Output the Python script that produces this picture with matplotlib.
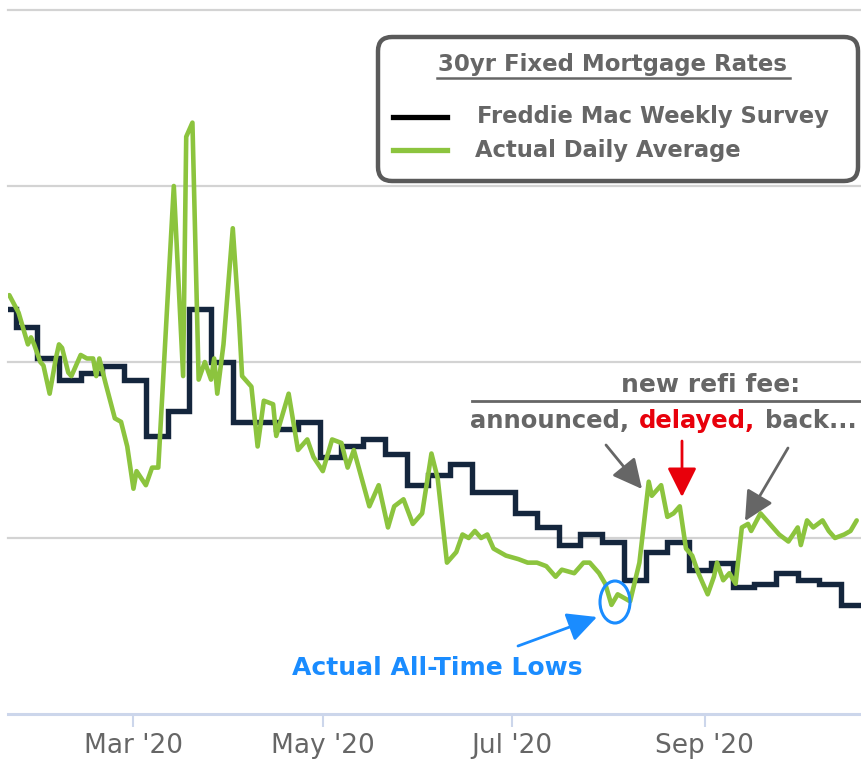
import matplotlib
matplotlib.use('Agg')
import matplotlib.pyplot as plt
import matplotlib.dates as mdates
from matplotlib.patches import FancyBboxPatch, Ellipse
from matplotlib.lines import Line2D
from matplotlib.transforms import Affine2D
import pandas as pd

# ---------------- data ----------------
freddie_dates = ['2020-01-16', '2020-01-23', '2020-01-30', '2020-02-06', '2020-02-13', '2020-02-20',
                 '2020-02-27', '2020-03-05', '2020-03-12', '2020-03-19', '2020-03-26', '2020-04-02',
                 '2020-04-09', '2020-04-16', '2020-04-23', '2020-04-30', '2020-05-07', '2020-05-14',
                 '2020-05-21', '2020-05-28', '2020-06-04', '2020-06-11', '2020-06-18', '2020-06-25',
                 '2020-07-02', '2020-07-09', '2020-07-16', '2020-07-23', '2020-07-30', '2020-08-06',
                 '2020-08-13', '2020-08-20', '2020-08-27', '2020-09-03', '2020-09-10', '2020-09-17',
                 '2020-09-24', '2020-10-01', '2020-10-08', '2020-10-15']
freddie_rates = [3.65, 3.60, 3.51, 3.45, 3.47, 3.49,
                 3.45, 3.29, 3.36, 3.65, 3.50, 3.33,
                 3.33, 3.31, 3.33, 3.23, 3.26, 3.28,
                 3.24, 3.15, 3.18, 3.21, 3.13, 3.13,
                 3.07, 3.03, 2.98, 3.01, 2.99, 2.88,
                 2.96, 2.99, 2.91, 2.93, 2.86, 2.87,
                 2.90, 2.88, 2.87, 2.81]

daily_dates = ['2020-01-21', '2020-01-24', '2020-01-27', '2020-01-28', '2020-01-29', '2020-01-31',
               '2020-02-01', '2020-02-03', '2020-02-05', '2020-02-06', '2020-02-07', '2020-02-09',
               '2020-02-10', '2020-02-13', '2020-02-15', '2020-02-17', '2020-02-18', '2020-02-19',
               '2020-02-21', '2020-02-24', '2020-02-26', '2020-02-28', '2020-03-01', '2020-03-02',
               '2020-03-05', '2020-03-07', '2020-03-09', '2020-03-14', '2020-03-17', '2020-03-18',
               '2020-03-20', '2020-03-22', '2020-03-24', '2020-03-26', '2020-03-27', '2020-03-28',
               '2020-03-30', '2020-04-02', '2020-04-04', '2020-04-05', '2020-04-08', '2020-04-10',
               '2020-04-12', '2020-04-15', '2020-04-16', '2020-04-18', '2020-04-20', '2020-04-23',
               '2020-04-26', '2020-04-28', '2020-05-01', '2020-05-04', '2020-05-07', '2020-05-09',
               '2020-05-11', '2020-05-16', '2020-05-19', '2020-05-22', '2020-05-24', '2020-05-27',
               '2020-05-30', '2020-06-02', '2020-06-05', '2020-06-07', '2020-06-10', '2020-06-13',
               '2020-06-15', '2020-06-17', '2020-06-19', '2020-06-21', '2020-06-23', '2020-06-25',
               '2020-06-29', '2020-07-03', '2020-07-06', '2020-07-09', '2020-07-12', '2020-07-15',
               '2020-07-17', '2020-07-21', '2020-07-24', '2020-07-26', '2020-07-29', '2020-07-31',
               '2020-08-02', '2020-08-04', '2020-08-06', '2020-08-08', '2020-08-11', '2020-08-14',
               '2020-08-15', '2020-08-18', '2020-08-20', '2020-08-22', '2020-08-24', '2020-08-26',
               '2020-08-28', '2020-08-30', '2020-09-02', '2020-09-04', '2020-09-05', '2020-09-07',
               '2020-09-09', '2020-09-11', '2020-09-13', '2020-09-15', '2020-09-16', '2020-09-19',
               '2020-09-21', '2020-09-25', '2020-09-28', '2020-10-01', '2020-10-02', '2020-10-04',
               '2020-10-06', '2020-10-09', '2020-10-11', '2020-10-13', '2020-10-16', '2020-10-18',
               '2020-10-20']
daily_rates = [3.69, 3.64, 3.55, 3.57, 3.55, 3.50,
               3.49, 3.41, 3.51, 3.55, 3.54, 3.47,
               3.46, 3.52, 3.51, 3.51, 3.46, 3.51,
               3.44, 3.34, 3.33, 3.26, 3.14, 3.19,
               3.15, 3.20, 3.20, 4.00, 3.46, 4.14,
               4.18, 3.45, 3.50, 3.45, 3.51, 3.41,
               3.55, 3.88, 3.62, 3.46, 3.43, 3.26,
               3.39, 3.38, 3.29, 3.35, 3.41, 3.25,
               3.28, 3.23, 3.19, 3.28, 3.27, 3.20,
               3.25, 3.09, 3.15, 3.03, 3.09, 3.11,
               3.04, 3.07, 3.24, 3.17, 2.93, 2.96,
               3.01, 3.00, 3.02, 3.00, 3.01, 2.97,
               2.95, 2.94, 2.93, 2.93, 2.92, 2.89,
               2.91, 2.90, 2.93, 2.93, 2.90, 2.87,
               2.81, 2.84, 2.83, 2.82, 2.93, 3.16,
               3.12, 3.15, 3.06, 3.07, 3.09, 2.97,
               2.95, 2.90, 2.84, 2.89, 2.93, 2.88,
               2.90, 2.87, 3.03, 3.04, 3.02, 3.07,
               3.05, 3.01, 2.99, 3.03, 2.98, 3.05,
               3.03, 3.05, 3.02, 3.00, 3.01, 3.02,
               3.05]

tick_dates = ['2020-03-01', '2020-05-01', '2020-07-01', '2020-09-01']
tick_labels = ["Mar '20", "May '20", "Jul '20", "Sep '20"]
grid_levels = [3.0, 3.5, 4.0, 4.5]
legend_title = '30yr Fixed Mortgage Rates'
series_names = ['Freddie Mac Weekly Survey', 'Actual Daily Average']

# ---------------- style ----------------
W, H = 862, 765
BLACK = '#14263d'
GREEN = '#8cc43e'
GRAY_TXT = '#666666'
BLUE = '#1a8cff'
RED = '#e8000b'

x_start = pd.Timestamp('2020-01-20 14:00')
x_end = pd.Timestamp('2020-10-21 17:00')

fig = plt.figure(figsize=(W / 100, H / 100), dpi=100)
fig.patch.set_facecolor('white')
ax = fig.add_axes([8 / W, 51 / H, 854 / W, 704 / H])
ax.set_facecolor('white')

# pixel transform (top-left origin) for decorations
PX = Affine2D().scale(1, -1).translate(0, H)

for g in grid_levels:
    ax.axhline(g, color='#d3d3d3', lw=1.6, zorder=1, clip_on=False)

fd = list(pd.to_datetime(freddie_dates)) + [x_end]
fr = freddie_rates + [freddie_rates[-1]]
ax.step(fd, fr, where='post', color=BLACK, lw=3.9, zorder=3,
        solid_joinstyle='miter')

ax.plot(pd.to_datetime(daily_dates), daily_rates, color=GREEN, lw=3.3, zorder=4,
        solid_joinstyle='round', solid_capstyle='round')

ax.set_xlim(x_start, x_end)
ax.set_ylim(2.5, 4.5)
ax.set_yticks([])
ax.set_xticks(pd.to_datetime(tick_dates))
ax.set_xticklabels(tick_labels, fontsize=19, color=GRAY_TXT, family='DejaVu Sans')
ax.tick_params(axis='x', length=9, width=1.5, color='#ccd6eb', pad=5)
for s in ['top', 'right', 'left']:
    ax.spines[s].set_visible(False)
ax.spines['bottom'].set_color('#ccd6eb')
ax.spines['bottom'].set_linewidth(2.2)

# ---------------- legend box ----------------
box = FancyBboxPatch((378, 37), 480, 144, boxstyle='round,pad=0,rounding_size=14',
                     transform=PX, facecolor='white', edgecolor='#5a5a5a', lw=3.2, zorder=10)
fig.add_artist(box)
fig.text(613, 65, legend_title, transform=PX, ha='center', va='center',
         fontsize=16.5, fontweight='bold', color=GRAY_TXT, zorder=11)
fig.add_artist(Line2D([437, 790], [78, 78], transform=PX, color=GRAY_TXT, lw=1.8, zorder=11))
fig.add_artist(Line2D([393, 447], [117, 117], transform=PX, color='black', lw=3.8, zorder=11))
fig.add_artist(Line2D([393, 447], [150, 150], transform=PX, color=GREEN, lw=3.8, zorder=11))
fig.text(477, 117, series_names[0], transform=PX, ha='left', va='center',
         fontsize=16.3, fontweight='bold', color=GRAY_TXT, zorder=11)
fig.text(475, 150, series_names[1], transform=PX, ha='left', va='center',
         fontsize=16.3, fontweight='bold', color=GRAY_TXT, zorder=11)

# ---------------- annotations ----------------
fig.text(711, 385, 'new refi fee:', transform=PX, ha='center', va='center',
         fontsize=18, fontweight='bold', color=GRAY_TXT)
fig.add_artist(Line2D([472, 862], [401, 401], transform=PX, color=GRAY_TXT, lw=2.0))
fig.text(470, 421, 'announced,', transform=PX, ha='left', va='center',
         fontsize=17.5, fontweight='bold', color=GRAY_TXT)
fig.text(639, 421, 'delayed,', transform=PX, ha='left', va='center',
         fontsize=17.5, fontweight='bold', color=RED)
fig.text(765, 421, 'back...', transform=PX, ha='left', va='center',
         fontsize=17.5, fontweight='bold', color=GRAY_TXT)

def arrow(tail, tip, color):
    ax.annotate('', xy=tip, xytext=tail, xycoords=PX, textcoords=PX,
                arrowprops=dict(arrowstyle='-|>,head_length=0.9,head_width=0.45',
                                color=color, lw=2.0, mutation_scale=20,
                                shrinkA=0, shrinkB=0), annotation_clip=False)

arrow((606, 445), (642, 489), '#666666')
arrow((682, 441), (682, 497), RED)
arrow((788, 448), (745, 521), '#666666')
arrow((518, 646), (597, 617), BLUE)

ell = Ellipse((615, 602), 30, 42, transform=PX, fill=False, edgecolor=BLUE, lw=2.2, zorder=6)
fig.add_artist(ell)
fig.text(437, 668, 'Actual All-Time Lows', transform=PX, ha='center', va='center',
         fontsize=18, fontweight='bold', color=BLUE)

fig.savefig('out.png', dpi=100, facecolor='white')
